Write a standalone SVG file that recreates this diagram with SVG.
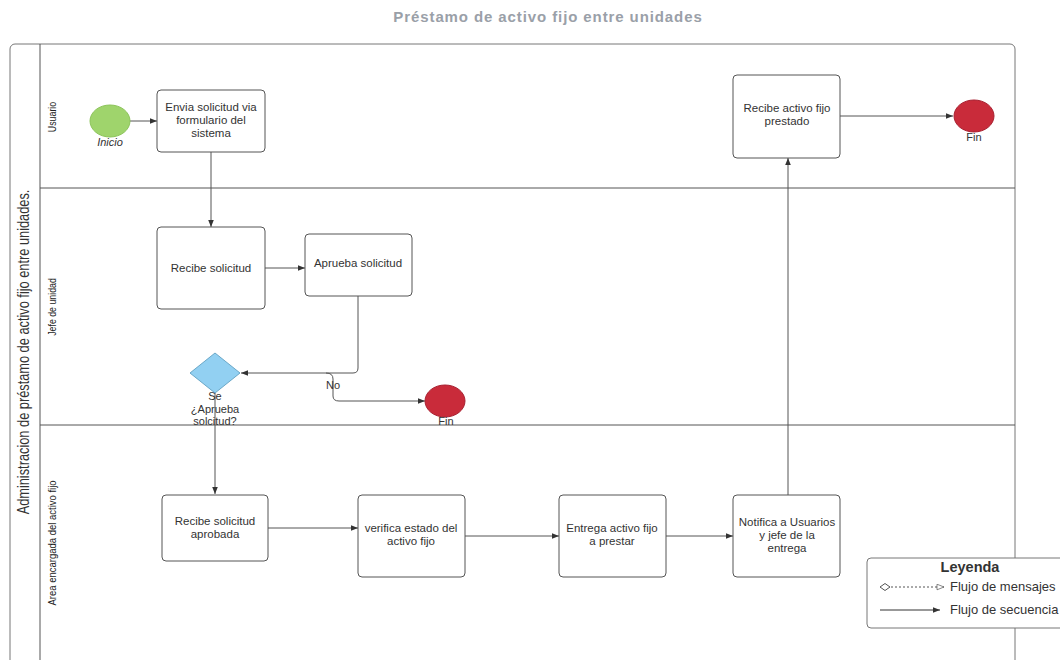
<svg xmlns="http://www.w3.org/2000/svg" width="1060" height="660" viewBox="0 0 1060 660">
  <defs>
    <marker id="arr" viewBox="0 0 10 10" refX="10" refY="5" markerWidth="10" markerHeight="7" orient="auto" markerUnits="userSpaceOnUse">
      <path d="M0,1 L10,5 L0,9 Z" fill="#333"/>
    </marker>
    <marker id="arrOpen" viewBox="0 0 10 10" refX="10" refY="5" markerWidth="10" markerHeight="7" orient="auto" markerUnits="userSpaceOnUse">
      <path d="M0,1 L10,5 L0,9 Z" fill="#fff" stroke="#555" stroke-width="1"/>
    </marker>
  </defs>
  <style>
    text { font-family: "Liberation Sans", Arial, sans-serif; fill: #333; }
    .title { font-size: 15px; font-weight: bold; fill: #9aa0a8; letter-spacing: 0.9px; }
    .pool { fill: #fff; stroke: #777; stroke-width: 1; }
    .lane { stroke: #555; stroke-width: 1; fill: none; }
    .lanelbl { font-size: 10px; fill: #222; }
    .task { fill: #fff; stroke: #555; stroke-width: 1; }
    .t { font-size: 11.5px; text-anchor: middle; }
    .lbl { font-size: 11px; text-anchor: middle; }
    .flow { fill: none; stroke: #555; stroke-width: 1; marker-end: url(#arr); }
    .start { fill: #9fd46c; stroke: #8cc45a; }
    .end { fill: #c92b3a; stroke: #a82030; }
    .gw { fill: #92d0f2; stroke: #6aa8c8; }
  </style>

  <text class="title" x="548" y="22" text-anchor="middle">Préstamo de activo fijo entre unidades</text>

  <!-- pool and lanes -->
  <g id="pool">
    <rect class="pool" x="10" y="44" width="1005" height="660" rx="5"/>
    <line class="lane" x1="40" y1="44" x2="40" y2="660"/>
    <line class="lane" x1="40" y1="188" x2="1015" y2="188"/>
    <line class="lane" x1="40" y1="425" x2="1015" y2="425"/>
    <text x="0" y="0" font-size="16" text-anchor="middle" fill="#222" transform="translate(29,352) rotate(-90) scale(0.8,1)">Administracion de préstamo  de activo fijo entre unidades.</text>
    <text class="lanelbl" text-anchor="middle" transform="translate(56,117) rotate(-90) scale(0.88,1)">Usuario</text>
    <text class="lanelbl" text-anchor="middle" transform="translate(56,307) rotate(-90) scale(0.88,1)">Jefe de unidad</text>
    <text class="lanelbl" text-anchor="middle" transform="translate(56,543) rotate(-90) scale(0.95,1)">Area encargada del activo fijo</text>
  </g>

  <!-- connectors -->
  <g id="connectors">
    <path class="flow" d="M130,121 L157,121"/>
    <path class="flow" d="M211,152 L211,227"/>
    <path class="flow" d="M265,268 L305,268"/>
    <path class="flow" d="M358,296 L358,368 Q358,373 353,373 L241,373"/>
    <path class="flow" d="M326,373 Q333,373 333,379 L333,396 Q333,401 339,401 L425,401"/>
    <text class="lbl" x="333" y="389">No</text>
    <path class="flow" d="M215,393 L215,494"/>
    <path class="flow" d="M268,528 L358,528"/>
    <path class="flow" d="M465,536 L559,536"/>
    <path class="flow" d="M666,536 L733,536"/>
    <path class="flow" d="M788,495 L788,158"/>
    <path class="flow" d="M840,116 L953,116"/>
  </g>

  <g id="inicio">
    <ellipse class="start" cx="110" cy="121" rx="20" ry="16"/>
    <text class="lbl" x="110" y="146" font-style="italic">Inicio</text>
  </g>

  <g id="envia">
    <rect class="task" x="157" y="90" width="108" height="62" rx="4"/>
    <text class="t" x="211" y="111">Envia solicitud via</text>
    <text class="t" x="211" y="124">formulario del</text>
    <text class="t" x="211" y="137">sistema</text>
  </g>

  <g id="recibe">
    <rect class="task" x="157" y="227" width="108" height="82" rx="4"/>
    <text class="t" x="211" y="272">Recibe solicitud</text>
  </g>

  <g id="aprueba">
    <rect class="task" x="305" y="234" width="107" height="62" rx="4"/>
    <text class="t" x="358" y="267" fill="#111">Aprueba solicitud</text>
  </g>

  <g id="decision">
    <polygon class="gw" points="215,353 240,373 215,393 190,373"/>
    <text class="lbl" x="215" y="400">Se</text>
    <text class="lbl" x="215" y="412.5">¿Aprueba</text>
    <text class="lbl" x="215" y="425">solcitud?</text>
  </g>

  <g id="fin-rechazo">
    <ellipse class="end" cx="445" cy="401" rx="20" ry="16"/>
    <text class="lbl" x="446" y="425">Fin</text>
  </g>

  <g id="recibe-aprobada">
    <rect class="task" x="162" y="495" width="106" height="66" rx="4"/>
    <text class="t" x="215" y="525">Recibe solicitud</text>
    <text class="t" x="215" y="538">aprobada</text>
  </g>

  <g id="verifica">
    <rect class="task" x="358" y="495" width="107" height="82" rx="4"/>
    <text class="t" x="411" y="532">verifica estado del</text>
    <text class="t" x="411" y="545">activo fijo</text>
  </g>

  <g id="entrega">
    <rect class="task" x="559" y="495" width="107" height="82" rx="4"/>
    <text class="t" x="612" y="532">Entrega activo fijo</text>
    <text class="t" x="612" y="545">a prestar</text>
  </g>

  <g id="notifica">
    <rect class="task" x="733" y="495" width="107" height="82" rx="4"/>
    <text class="t" x="787" y="526">Notifica a Usuarios</text>
    <text class="t" x="787" y="539">y jefe de la</text>
    <text class="t" x="787" y="552">entrega</text>
  </g>

  <g id="recibe-activo">
    <rect class="task" x="733" y="75" width="107" height="83" rx="4"/>
    <text class="t" x="787" y="112">Recibe activo fijo</text>
    <text class="t" x="787" y="125">prestado</text>
  </g>

  <g id="fin">
    <ellipse class="end" cx="974" cy="116" rx="20" ry="16"/>
    <text class="lbl" x="974" y="141">Fin</text>
  </g>

  <g id="leyenda">
    <rect x="867" y="558" width="205" height="70" rx="4" fill="#fff" stroke="#777"/>
    <text x="970" y="572" font-size="14.5" font-weight="bold" text-anchor="middle" fill="#222">Leyenda</text>
    <polygon points="880,587 885,583.5 890,587 885,590.5" fill="#fff" stroke="#555"/>
    <path d="M891,587 L944,587" stroke="#555" stroke-dasharray="2,2" fill="none" marker-end="url(#arrOpen)"/>
    <text x="950" y="591" font-size="13">Flujo de mensajes</text>
    <path d="M880,610 L940,610" stroke="#333" fill="none" marker-end="url(#arr)"/>
    <text x="950" y="614" font-size="13">Flujo de secuencia</text>
  </g>
</svg>
